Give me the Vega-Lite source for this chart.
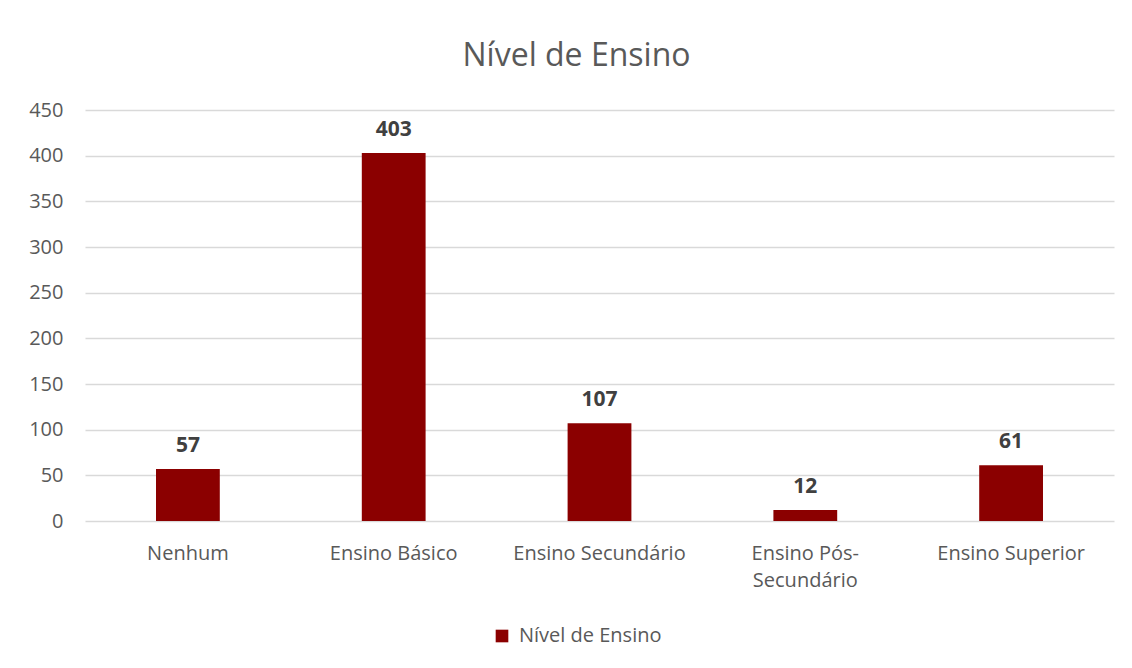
{
  "$schema": "https://vega.github.io/schema/vega-lite/v6.json",
  "autosize": {"type": "none"},
  "width": 1029,
  "height": 411,
  "padding": {"left": 85, "top": 110, "right": 18, "bottom": 147},
  "background": "white",
  "title": {
    "text": "Nível de Ensino",
    "font": "Open Sans",
    "fontSize": 32,
    "fontWeight": "normal",
    "color": "#595959",
    "anchor": "middle",
    "baseline": "alphabetic",
    "dx": -23,
    "offset": 2
  },
  "data": {
    "values": [
      {"nivel": "Nenhum", "valor": 57, "serie": "Nível de Ensino"},
      {"nivel": "Ensino Básico", "valor": 403, "serie": "Nível de Ensino"},
      {"nivel": "Ensino Secundário", "valor": 107, "serie": "Nível de Ensino"},
      {"nivel": "Ensino Pós-Secundário", "valor": 12, "serie": "Nível de Ensino"},
      {"nivel": "Ensino Superior", "valor": 61, "serie": "Nível de Ensino"}
    ]
  },
  "encoding": {
    "x": {
      "field": "nivel",
      "type": "nominal",
      "sort": null,
      "scale": {"paddingInner": 0.69, "paddingOuter": 0.345},
      "axis": {
        "title": null,
        "labelAngle": 0,
        "labelFont": "Open Sans",
        "labelFontSize": 20,
        "labelColor": "#595959",
        "labelPadding": 22,
        "labelLineHeight": 27,
        "ticks": false,
        "domain": false,
        "labelExpr": "datum.label == 'Ensino Pós-Secundário' ? ['Ensino Pós-', 'Secundário'] : datum.label"
      }
    },
    "y": {
      "field": "valor",
      "type": "quantitative",
      "scale": {"domain": [0, 450], "nice": false},
      "axis": {
        "title": null,
        "values": [0, 50, 100, 150, 200, 250, 300, 350, 400, 450],
        "labelFont": "Open Sans",
        "labelFontSize": 20,
        "labelColor": "#595959",
        "labelPadding": 22,
        "ticks": false,
        "domain": false,
        "gridColor": "#D9D9D9",
        "gridWidth": 1.5
      }
    }
  },
  "layer": [
    {
      "mark": {"type": "bar", "color": "#8B0000"},
      "encoding": {
        "color": {
          "field": "serie",
          "type": "nominal",
          "scale": {"range": ["#8B0000"]},
          "legend": {
            "title": null,
            "orient": "none",
            "legendX": 407,
            "legendY": 516,
            "symbolType": "square",
            "symbolSize": 160,
            "symbolOpacity": 1,
            "labelFont": "Open Sans",
            "labelFontSize": 20,
            "labelColor": "#595959",
            "labelOffset": 7
          }
        }
      }
    },
    {
      "mark": {
        "type": "text",
        "font": "Open Sans",
        "fontSize": 21,
        "fontWeight": "bold",
        "color": "#404040",
        "baseline": "alphabetic",
        "dy": -17
      },
      "encoding": {
        "text": {"field": "valor", "type": "quantitative"}
      }
    }
  ],
  "config": {
    "view": {"stroke": null}
  }
}
